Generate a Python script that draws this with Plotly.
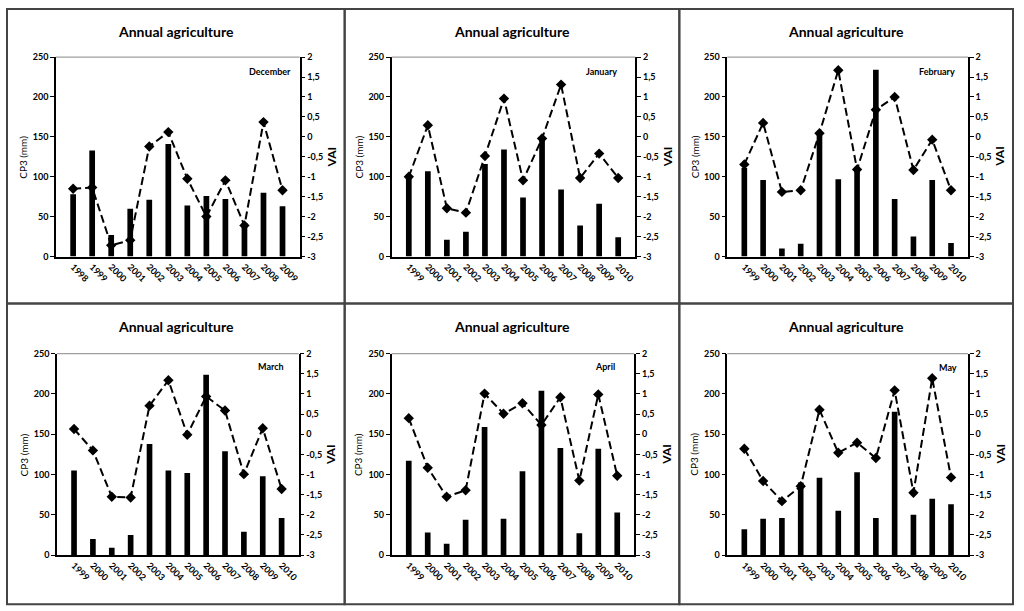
import plotly.graph_objects as go

# ---------------- data ----------------
YEARS_DEC = ["1998", "1999", "2000", "2001", "2002", "2003", "2004", "2005", "2006", "2007", "2008", "2009"]
YEARS = ["1999", "2000", "2001", "2002", "2003", "2004", "2005", "2006", "2007", "2008", "2009", "2010"]

MONTHS = ["December", "January", "February", "March", "April", "May"]

CP3_DEC = [78, 133, 27, 60, 71, 141, 64, 76, 72, 42, 80, 63]
VAI_DEC = [-1.30, -1.27, -2.72, -2.59, -0.24, 0.12, -1.05, -2.0, -1.09, -2.22, 0.37, -1.34]

CP3_JAN = [102, 107, 21, 31, 116, 134, 74, 149, 84, 39, 66, 24]
VAI_JAN = [-1.0, 0.29, -1.79, -1.9, -0.48, 0.96, -1.09, -0.04, 1.31, -1.03, -0.42, -1.03]

CP3_FEB = [111, 96, 10, 16, 152, 97, 110, 234, 72, 25, 96, 17]
VAI_FEB = [-0.69, 0.35, -1.38, -1.34, 0.09, 1.67, -0.82, 0.68, 1.0, -0.83, -0.07, -1.34]

CP3_MAR = [105, 20, 9, 25, 138, 105, 102, 224, 129, 29, 98, 46]
VAI_MAR = [0.13, -0.4, -1.55, -1.57, 0.71, 1.34, -0.01, 0.94, 0.59, -0.99, 0.15, -1.36]

CP3_APR = [117, 28, 14, 44, 159, 45, 104, 204, 133, 27, 132, 53]
VAI_APR = [0.4, -0.83, -1.55, -1.39, 1.01, 0.51, 0.77, 0.23, 0.92, -1.15, 0.99, -1.03]

CP3_MAY = [32, 45, 46, 90, 96, 55, 103, 46, 178, 50, 70, 63]
VAI_MAY = [-0.36, -1.16, -1.66, -1.29, 0.61, -0.46, -0.21, -0.59, 1.09, -1.45, 1.39, -1.07]

TITLE = "Annual agriculture"
LEFT_TITLE = "CP3 (mm)"
RIGHT_TITLE = "VAI"

LEFT_TICKS = [0, 50, 100, 150, 200, 250]
RIGHT_TICKS = [-3, -2.5, -2, -1.5, -1, -0.5, 0, 0.5, 1, 1.5, 2]
RIGHT_TICKTEXT = ["-3", "-2,5", "-2", "-1,5", "-1", "-0,5", "0", "0,5", "1", "1,5", "2"]

PANELS = [
    (YEARS_DEC, CP3_DEC, VAI_DEC),
    (YEARS, CP3_JAN, VAI_JAN),
    (YEARS, CP3_FEB, VAI_FEB),
    (YEARS, CP3_MAR, VAI_MAR),
    (YEARS, CP3_APR, VAI_APR),
    (YEARS, CP3_MAY, VAI_MAY),
]

# ---------------- layout geometry (pixels) ----------------
W, H = 1024, 611
FONT = "Lato"
# plot areas: (x0, x1, ytop, ybottom)
AREAS = [
    (56, 300, 56, 255),
    (392, 636, 56, 255),
    (728, 969, 56, 255),
    (57, 299, 352, 553),
    (392, 635, 352, 553),
    (728, 969, 352, 553),
]
TITLE_POS = [(176, 30), (513, 30), (847, 30), (176, 325), (512, 325), (847, 325)]
MONTH_RIGHT = [293, 620, 958, 286, 618, 960]
MONTH_Y = [70, 70, 70, 365, 365, 366]
BOXES = [
    (7, 345, 8, 302), (345, 680, 8, 302), (680, 1014, 8, 302),
    (7, 345, 302, 602), (345, 680, 302, 602), (680, 1014, 302, 602),
]

# observed mapping between page y and photographed y: shot = 5 + 0.98 * page
Y_OFF, Y_SCALE = 5.0, 0.98


def px(x):
    return x / W


def py(y):
    page_y = (y - Y_OFF) / Y_SCALE
    return 1 - page_y / H


fig = go.Figure()
layout = dict(
    width=W, height=H,
    margin=dict(l=0, r=0, t=0, b=0),
    paper_bgcolor="white", plot_bgcolor="white",
    showlegend=False,
    bargap=0.7,
    font=dict(family=FONT, color="black"),
)
annotations = []
shapes = []

for k, ((years, cp3, vai), (x0, x1, yt, yb)) in enumerate(zip(PANELS, AREAS), start=1):
    xa = "x" if k == 1 else f"x{k}"
    yl_n = 2 * k - 1
    yr_n = 2 * k
    yl = "y" if yl_n == 1 else f"y{yl_n}"
    yr = f"y{yr_n}"

    fig.add_trace(go.Bar(x=years, y=cp3, xaxis=xa, yaxis=yl,
                         marker=dict(color="black", line=dict(width=0))))
    fig.add_trace(go.Scatter(x=years, y=vai, xaxis=xa, yaxis=yr, mode="lines+markers",
                             line=dict(color="black", width=2, dash="8px,4px"),
                             marker=dict(symbol="diamond", size=8, color="black")))

    xkey = "xaxis" if k == 1 else f"xaxis{k}"
    ylkey = "yaxis" if yl_n == 1 else f"yaxis{yl_n}"
    yrkey = f"yaxis{yr_n}"

    layout[xkey] = dict(
        domain=[px(x0), px(x1)], anchor=yl, type="category",
        showline=True, linecolor="black", linewidth=1.5,
        ticks="", tickangle=45, showgrid=False, zeroline=False,
        tickfont=dict(family=FONT, size=9, color="#000000", weight="bold"),
        fixedrange=True,
    )
    layout[ylkey] = dict(
        domain=[py(yb), py(yt)], anchor=xa, range=[0, 250],
        tickvals=LEFT_TICKS, showline=True, linecolor="black", linewidth=1.5,
        ticks="outside", ticklen=4, tickcolor="black", tickwidth=1.2,
        showgrid=False, zeroline=False,
        tickfont=dict(family=FONT, size=9, color="black", weight="bold"),
    )
    layout[yrkey] = dict(
        overlaying=yl, side="right", anchor=xa, range=[-3, 2],
        tickvals=RIGHT_TICKS, ticktext=RIGHT_TICKTEXT,
        showline=True, linecolor="black", linewidth=1.5,
        ticks="outside", ticklen=4, tickcolor="black", tickwidth=1.2,
        showgrid=False, zeroline=False,
        tickfont=dict(family=FONT, size=9, color="black", weight="bold"),
    )

    # top border of plot area
    shapes.append(dict(type="line", xref=f"{xa} domain", yref=f"{yl} domain",
                       x0=0, x1=1, y0=1, y1=1, line=dict(color="#888888", width=1)))

    # title
    tx, ty = TITLE_POS[k - 1]
    annotations.append(dict(text=f"<b>{TITLE}</b>", x=px(tx), y=py(ty), xref="paper", yref="paper",
                            showarrow=False, xanchor="center", yanchor="middle",
                            font=dict(family=FONT, size=14, color="black")))
    # month label
    annotations.append(dict(text=f"<b>{MONTHS[k - 1]}</b>", x=px(MONTH_RIGHT[k - 1]), y=py(MONTH_Y[k - 1]),
                            xref="paper", yref="paper", showarrow=False,
                            xanchor="right", yanchor="middle",
                            font=dict(family=FONT, size=9, color="black")))
    # axis titles
    annotations.append(dict(text=LEFT_TITLE, x=px(x0 - 33), y=py((yt + yb) / 2), xref="paper", yref="paper",
                            showarrow=False, textangle=-90, xanchor="center", yanchor="middle",
                            font=dict(family=FONT, size=10, color="black")))
    annotations.append(dict(text=f"<b>{RIGHT_TITLE}</b>", x=px(x1 + 32), y=py((yt + yb) / 2), xref="paper",
                            yref="paper", showarrow=False, textangle=-90, xanchor="center", yanchor="middle",
                            font=dict(family=FONT, size=12, color="black")))

for (bx0, bx1, by0, by1) in BOXES:
    shapes.append(dict(type="rect", xref="paper", yref="paper",
                       x0=px(bx0), x1=px(bx1), y0=py(by1), y1=py(by0),
                       line=dict(color="#444444", width=2)))

layout["annotations"] = annotations
layout["shapes"] = shapes
fig.update_layout(**layout)

fig.write_html("out.html", config={"displayModeBar": False},
               post_script="document.body.style.margin='0';document.body.style.overflow='hidden';")
